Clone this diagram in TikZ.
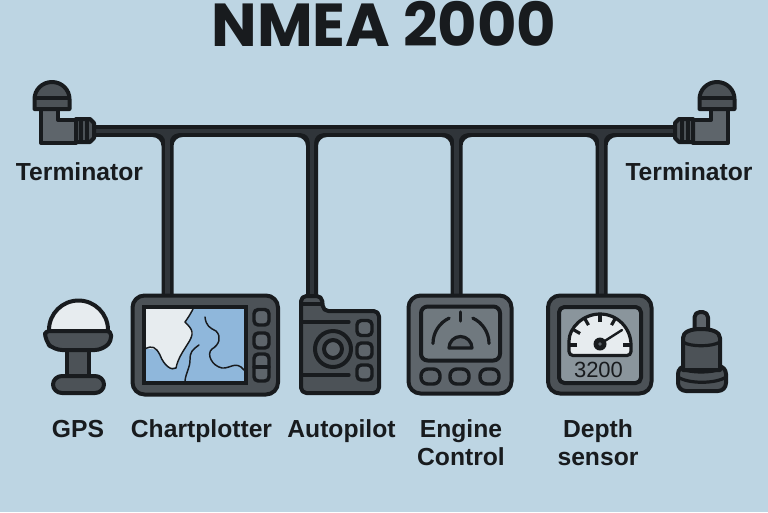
\documentclass[tikz,border=0pt]{standalone}
\usepackage{fontspec}
\setmainfont{Liberation Sans}
\newfontfamily\titlefont{Poppins}
\definecolor{bgc}{HTML}{BDD5E3}
\definecolor{ink}{HTML}{181B1E}
\definecolor{body}{HTML}{4C5257}
\definecolor{bodylt}{HTML}{5E656B}
\definecolor{scr}{HTML}{70797F}
\definecolor{scrlt}{HTML}{8A959C}
\definecolor{water}{HTML}{8FB7DB}
\definecolor{paper}{HTML}{E7ECEF}
\definecolor{core}{HTML}{30353A}
\tikzset{
 x=0.75pt,y=-0.75pt,
 part/.style={draw=ink,line width=3pt,line join=round,fill=body},
 partlt/.style={part,fill=bodylt},
 thin line/.style={draw=ink,line width=2.4pt,line cap=round,line join=round},
 fine/.style={draw=ink,line width=1.1pt,line cap=round,line join=round},
 key/.style={part,line width=2.6pt,rounded corners=3.2pt,fill=bodylt},
 label/.style={font=\bfseries\fontsize{18.5pt}{21pt}\selectfont,text=ink,anchor=base,inner sep=0pt},
 bus/.style={draw=ink,line width=9pt},
 buscore/.style={draw=core,line width=3.2pt},
}
\newcommand{\tapfill}[4]{% x, y bottom, half width, colour
 \fill[#4] (#1-#3-9,131+#3) arc[start angle=270,end angle=360,radius=9] -- (#1-#3,#2) -- (#1+#3,#2) -- (#1+#3,131+#3+9) arc[start angle=180,end angle=270,radius=9] -- cycle;}
\newcommand{\terminator}[1]{%
 \begin{scope}[#1]
  \path[part,fill=bodylt] (41,108) -- (58,108) -- (58,120) -- (76,120) -- (76,143) -- (41,143) -- cycle;
  \path[part] (76,119) -- (90,119) -- (94,123) -- (94,138) -- (90,142) -- (76,142) -- cycle;
  \draw[thin line,line cap=butt] (81,120) -- (81,141) (87,120) -- (87,141);
  \path[part] (34.5,109) -- (34.5,99) arc[start angle=180,end angle=360,x radius=17.5,y radius=17] -- (69.5,109) -- cycle;
  \draw[thin line,line cap=butt] (35,98) -- (69,98);
 \end{scope}}
\begin{document}
\begin{tikzpicture}
\useasboundingbox (0,0) rectangle (768,512);
\fill[bgc] (0,0) rectangle (768,512);

\node[inner sep=0pt,text=ink,anchor=base] (title) at (384,46) {\titlefont\bfseries\fontsize{45.5pt}{48pt}\selectfont NMEA 2000};

% named ends of the connectors
\coordinate (busL) at (90,131);
\coordinate (busR) at (679,131);
\coordinate (t1) at (167.5,131);
\coordinate (t2) at (312,131);
\coordinate (t3) at (456.5,131);
\coordinate (t4) at (601.5,131);
\coordinate (chart) at (167.5,297);
\coordinate (auto) at (312,297);
\coordinate (engine) at (456.5,297);
\coordinate (depth) at (601.5,297);

% backbone and drops
\draw[bus] (busL) -- (busR);
\foreach \xx in {167.5,312,456.5,601.5} {\tapfill{\xx}{297}{6}{ink}}
\draw[buscore] (busL) -- (busR);
\foreach \xx in {167.5,312,456.5,601.5} {\tapfill{\xx}{145}{2.2}{core}}
\draw[buscore] (t1) -- (chart);
\draw[buscore] (t2) -- (auto);
\draw[buscore] (t3) -- (engine);
\draw[buscore] (t4) -- (depth);

% terminators
\terminator{}
\terminator{xshift=576.75pt,x=-0.75pt}

% GPS
\path[part,fill=paper] (49,332) -- (49,330) arc[start angle=180,end angle=360,radius=29.5] -- (108,332) -- cycle;
\path[part] (67,348) rectangle (89,380);
\path[part] (62,376) -- (95,376) arc[start angle=270,end angle=450,x radius=9,y radius=8.5] -- (62,393) arc[start angle=90,end angle=270,x radius=9,y radius=8.5] -- cycle;
\draw[part,fill=body,rounded corners=3pt] (45,331) -- (111,331) -- (111,341) [rounded corners=6pt] -- (103,350) -- (54,350) -- (45,341) [rounded corners=3pt] -- cycle;

% Chartplotter
\path[part,rounded corners=9pt] (132.5,295.5) rectangle (278,394.5);
\path[fill=water] (145,308) rectangle (245,382);
\fill[paper] (145,309) -- (193,309) -- (185,322) -- (193,332) -- (187,345) -- (180,357) -- (177,367) -- (170,368) -- (163,360) -- (158,350) -- (145,348) -- cycle;
\draw[fine] (145,349) .. controls (152,345) and (156,347) .. (160,355) .. controls (164,366) and (172,371) .. (176,368) .. controls (178,358) and (184,350) .. (187,345) .. controls (195,333) and (193,330) .. (185,322) .. controls (188,318) and (191,313) .. (193,309);
\draw[fine] (205,317) .. controls (206,326) and (210,328) .. (216,331) .. controls (222,337) and (219,345) .. (212,349) .. controls (206,354) and (212,366) .. (222,368) .. controls (230,369) and (236,360) .. (244,370);
\draw[fine] (199,345) .. controls (192,350) and (190,352) .. (190,360) .. controls (190,368) and (186,372) .. (185,381);
\path[draw=ink,line width=3.2pt] (144,307) rectangle (246,383);
\path[key] (254,309.5) rectangle (269,325);
\path[key] (254,333) rectangle (269,348);
\path[key] (254,354) rectangle (269,381);
\draw[thin line] (254,367) -- (269,367);

% Autopilot
\path[part,rounded corners=4pt] (301,296) -- (322,296) -- (323,311) -- (379,311) -- (379,393) -- (301,393) -- cycle;
\draw[thin line] (301,304) -- (322,304);
\draw[thin line] (301,322) -- (349,322);
\draw[thin line] (301,375) -- (349,375);
\path[part,fill=body] (333,349) circle[radius=18];
\path[part,fill=bodylt] (333,349) circle[radius=9];
\path[key] (357,320.5) rectangle (372,335.5);
\path[key] (357,343) rectangle (372,358);
\path[key] (357,365) rectangle (372,380);

% Engine control
\path[partlt,rounded corners=9pt] (408.5,295.5) rectangle (511.5,393.5);
\path[part,fill=scr,rounded corners=5pt] (421,306.5) rectangle (500,360.5);
\draw[thin line] (433,343.5) arc[start angle=180,end angle=245,radius=28];
\draw[thin line] (489,343.5) arc[start angle=360,end angle=295,radius=28];
\draw[thin line] (460.5,312) -- (460.5,321);
\path[part,fill=bodylt,line width=2.4pt] (449,348) arc[start angle=180,end angle=360,radius=11.5] -- cycle;
\path[key,rounded corners=5pt] (421,369) rectangle (440,384);
\path[key,rounded corners=5pt] (450,369) rectangle (469,384);
\path[key,rounded corners=5pt] (480,369) rectangle (499,384);

% Depth sensor
\path[part,rounded corners=9pt] (548,295.5) rectangle (651.5,393.5);
\path[part,fill=scrlt,rounded corners=4pt] (559,307) rectangle (641,383);
\path[part,fill=paper,line width=2.4pt] (569,355.5) [rounded corners=3pt] -- (569,345) [sharp corners] arc[start angle=180,end angle=360,radius=31] [rounded corners=3pt] -- (631,355.5) -- cycle;
\foreach \aa in {180,210,240,270,300,360}{\draw[thin line,line cap=butt] (600,345)++(\aa:23) -- ++(\aa:8);}
\draw[ink,line width=1.8pt,line cap=round] (600,344) -- (622,330);
\fill[ink] (600,344) circle[radius=6.5];
\fill[bodylt] (600,344) circle[radius=1.8];
\node[inner sep=0pt,text=ink,font=\fontsize{16.5pt}{18pt}\selectfont] (depthval) at (598.5,369.5) {3200};

% sensor
\path[partlt,rounded corners=4pt] (694.5,312) rectangle (708,338);
\path[part,rounded corners=6pt] (678,366) rectangle (726,391);
\path[part,fill=body] (683,370) -- (683,338) .. controls (683,332) and (690,329) .. (701,329) .. controls (712,329) and (720,332) .. (720,338) -- (720,370) -- cycle;
\draw[thin line] (683,342) .. controls (690,347) and (712,347) .. (720,342);
\draw[thin line] (683,369) .. controls (690,373) and (712,373) .. (720,369);
\draw[thin line] (678,377) .. controls (688,384) and (716,384) .. (726,377);

% labels
\node[label] (lt1) at (79.5,180) {Terminator};
\node[label] (lt2) at (689,180) {Terminator};
\node[label] (l1) at (78,437) {GPS};
\node[label] (l2) at (201.5,437) {Chartplotter};
\node[label] (l3) at (341.5,437) {Autopilot};
\node[label] (l4a) at (461,437) {Engine};
\node[label] (l4b) at (461,465) {Control};
\node[label] (l5a) at (598,437) {Depth};
\node[label] (l5b) at (598,465) {sensor};
\end{tikzpicture}
\end{document}
